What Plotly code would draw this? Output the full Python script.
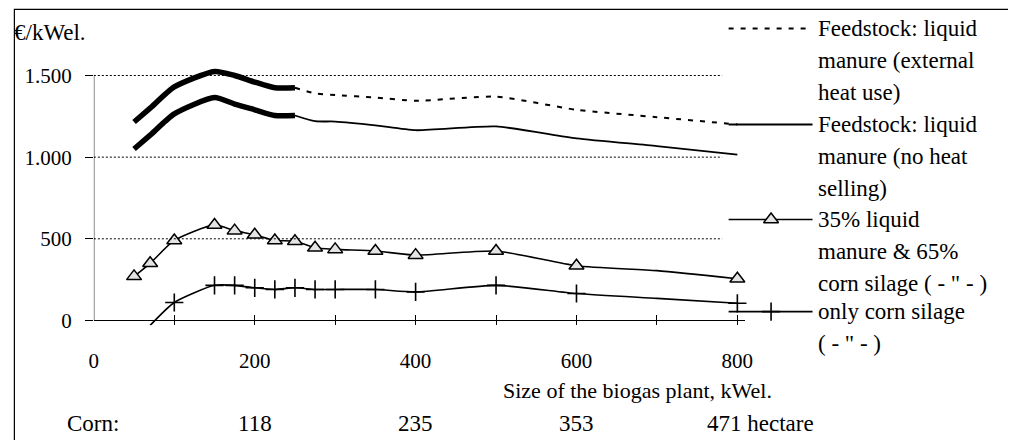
import plotly.graph_objects as go

W, H = 1016, 447
FONT = "Liberation Serif"
TXT = 23       # annotation text size
TICK = 21      # tick label size

# ---------------- data ----------------
sizes = [50, 70, 100, 150, 175, 200, 225, 250, 275, 300, 350, 400, 500, 600, 700, 800]
external_heat = [1215, 1300, 1430, 1525, 1500, 1460, 1425, 1425, 1390, 1380, 1365, 1345, 1370, 1290, 1245, 1200]
no_heat = [1050, 1135, 1265, 1365, 1325, 1290, 1255, 1255, 1220, 1218, 1195, 1165, 1188, 1115, 1068, 1015]
mix_35_65 = [270, 350, 490, 585, 550, 525, 490, 485, 445, 435, 425, 400, 425, 335, 305, 255]
corn_only = [None, -30, 110, 215, 215, 200, 190, 200, 190, 190, 190, 175, 215, 165, 135, 105]
thick_until = 250          # thick line segment up to this size
no_marker_sizes_mix = [700]
no_marker_sizes_corn = [70, 700]

y_ticks = [0, 500, 1000, 1500]
x_ticks = [0, 100, 200, 300, 400, 500, 600, 700, 800]
x_tick_labels = ["0", "", "200", "", "400", "", "600", "", "800"]
corn_sizes = [200, 400, 600, 800]
corn_hectare = ["118", "235", "353", "471 hectare"]

legend_texts = [
    ["Feedstock: liquid", "manure (external", "heat use)"],
    ["Feedstock: liquid", "manure (no heat", "selling)"],
    ["35% liquid", "manure & 65%", "corn silage ( - \" - )"],
    ["only corn silage", "( - \" - )"],
]

# ---------------- layout geometry (pixels) ----------------
PX_L, PX_R = 90, 750        # plot area left/right
PX_T, PX_B = 65, 330        # plot area top/bottom
X_RANGE = [0, 810]
Y_RANGE = [-30, 1560]
GRID_END = 781

fig = go.Figure()

def split(xs, ys, lo=None, hi=None):
    ox, oy = [], []
    for x, y in zip(xs, ys):
        if (lo is None or x >= lo) and (hi is None or x <= hi):
            ox.append(x)
            oy.append(y)
    return ox, oy

line_kw = dict(shape="spline", smoothing=0.6, color="black")

# liquid manure, external heat use
x, y = split(sizes, external_heat, hi=thick_until)
fig.add_trace(go.Scatter(x=x, y=y, mode="lines", line=dict(width=5.5, **line_kw), showlegend=False))
x, y = split(sizes, external_heat, lo=thick_until)
fig.add_trace(go.Scatter(x=x, y=y, mode="lines", line=dict(width=2, dash="5px,7px", **line_kw), showlegend=False))

# liquid manure, no heat selling
x, y = split(sizes, no_heat, hi=thick_until)
fig.add_trace(go.Scatter(x=x, y=y, mode="lines", line=dict(width=5.5, **line_kw), showlegend=False))
x, y = split(sizes, no_heat, lo=thick_until)
fig.add_trace(go.Scatter(x=x, y=y, mode="lines", line=dict(width=1.8, **line_kw), showlegend=False))

# 35% manure & 65% corn silage
fig.add_trace(go.Scatter(x=sizes, y=mix_35_65, mode="lines", line=dict(width=1.6, **line_kw), showlegend=False))
mx = [s for s in sizes if s not in no_marker_sizes_mix]
my = [v for s, v in zip(sizes, mix_35_65) if s not in no_marker_sizes_mix]
fig.add_trace(go.Scatter(x=mx, y=my, mode="markers", showlegend=False, cliponaxis=False,
                         marker=dict(symbol="triangle-up", size=13, color="#e4e4e4",
                                     line=dict(color="black", width=1.5))))

# only corn silage
fig.add_trace(go.Scatter(x=sizes, y=corn_only, mode="lines", line=dict(width=1.6, **line_kw), showlegend=False))
cx = [s for s, v in zip(sizes, corn_only) if v is not None and s not in no_marker_sizes_corn]
cy = [v for s, v in zip(sizes, corn_only) if v is not None and s not in no_marker_sizes_corn]
fig.add_trace(go.Scatter(x=cx, y=cy, mode="markers", showlegend=False, cliponaxis=False,
                         marker=dict(symbol="cross-thin", size=13, color="black",
                                     line=dict(color="black", width=1.6))))

# ---------------- legend samples (pixel overlay axes) ----------------
LEG_X0, LEG_X1, LEG_MID = 733, 818, 776
leg_rows = [27, 125, 222, 316]
fig.add_trace(go.Scatter(x=[LEG_X0, LEG_X1], y=[leg_rows[0]] * 2, xaxis="x2", yaxis="y2", mode="lines",
                         line=dict(color="black", width=2, dash="5px,7px"), showlegend=False))
fig.add_trace(go.Scatter(x=[LEG_X0, LEG_X1], y=[leg_rows[1]] * 2, xaxis="x2", yaxis="y2", mode="lines",
                         line=dict(color="black", width=1.8), showlegend=False))
fig.add_trace(go.Scatter(x=[LEG_X0, LEG_X1], y=[leg_rows[2]] * 2, xaxis="x2", yaxis="y2",
                         mode="lines", line=dict(color="black", width=1.6), showlegend=False))
fig.add_trace(go.Scatter(x=[LEG_MID], y=[leg_rows[2]], xaxis="x2", yaxis="y2", mode="markers",
                         showlegend=False,
                         marker=dict(symbol="triangle-up", size=13, color="#e4e4e4",
                                     line=dict(color="black", width=1.5))))
fig.add_trace(go.Scatter(x=[LEG_X0, LEG_X1], y=[leg_rows[3]] * 2, xaxis="x2", yaxis="y2",
                         mode="lines", line=dict(color="black", width=1.6), showlegend=False))
fig.add_trace(go.Scatter(x=[LEG_MID], y=[leg_rows[3]], xaxis="x2", yaxis="y2", mode="markers",
                         showlegend=False,
                         marker=dict(symbol="cross-thin", size=13, color="black",
                                     line=dict(color="black", width=1.6))))

annotations = []
LINE_H = 32.5
for row_y, lines in zip(leg_rows, legend_texts):
    for i, t in enumerate(lines):
        annotations.append(dict(x=822, y=row_y + i * LINE_H, xref="x2", yref="y2", text=t,
                                showarrow=False, xanchor="left", yanchor="middle",
                                font=dict(family=FONT, size=TXT, color="black")))

annotations.append(dict(x=7, y=31, xref="x2", yref="y2", text="€/kWel.", showarrow=False,
                        xanchor="left", yanchor="middle", font=dict(family=FONT, size=TXT, color="black")))
annotations.append(dict(x=641, y=396, xref="x2", yref="y2", text="Size of the biogas plant, kWel.",
                        showarrow=False, xanchor="center", yanchor="middle",
                        font=dict(family=FONT, size=22, color="black")))
annotations.append(dict(x=61, y=430, xref="x2", yref="y2", text="Corn:", showarrow=False,
                        xanchor="left", yanchor="middle", font=dict(family=FONT, size=TXT, color="black")))
for s, t in zip(corn_sizes, corn_hectare):
    last = t == corn_hectare[-1]
    annotations.append(dict(x=s, y=430, xref="x", yref="y2", text=t, showarrow=False,
                            xanchor="left" if last else "center", xshift=-32 if last else 0,
                            yanchor="middle", font=dict(family=FONT, size=TXT, color="black")))

shapes = []
for v in y_ticks[1:]:
    shapes.append(dict(type="line", xref="x", yref="y", x0=0, x1=GRID_END, y0=v, y1=v,
                       line=dict(color="black", width=1, dash="2px,2px")))
shapes.append(dict(type="line", xref="x", yref="y", x0=0, x1=0, y0=0, y1=y_ticks[-1],
                   line=dict(color="black", width=1)))
# outer frame
shapes.append(dict(type="rect", xref="x2", yref="y2", x0=9.5, x1=W + 20, y0=7.5, y1=H + 20,
                   line=dict(color="black", width=1.2)))

fig.update_layout(
    width=W, height=H,
    autosize=False,
    margin=dict(l=0, r=0, t=0, b=0),
    paper_bgcolor="white", plot_bgcolor="rgba(0,0,0,0)",
    separators=",.",
    font=dict(family=FONT, size=TICK, color="black"),
    showlegend=False,
    xaxis=dict(domain=[PX_L / W, PX_R / W], range=X_RANGE, tickmode="array", tickvals=x_ticks,
               ticktext=x_tick_labels, ticks="inside", ticklen=10, tickwidth=1, tickcolor="black",
               showgrid=False, zeroline=False, showline=False, anchor="y",
               ticklabelstandoff=21, tickfont=dict(family=FONT, size=TICK, color="black")),
    yaxis=dict(domain=[(H - PX_B) / H, (H - PX_T) / H], range=Y_RANGE, tickmode="array",
               tickvals=y_ticks, tickformat=",d", ticks="outside", ticklen=8, tickwidth=1,
               tickcolor="black", showgrid=False, zeroline=True, zerolinecolor="black",
               zerolinewidth=1, showline=False, anchor="x", ticklabelstandoff=9,
               tickfont=dict(family=FONT, size=TICK, color="black")),
    xaxis2=dict(domain=[0, 1], range=[0, W], visible=False, anchor="y2", fixedrange=True),
    yaxis2=dict(domain=[0, 1], range=[H, 0], visible=False, anchor="x2", fixedrange=True),
    annotations=annotations,
    shapes=shapes,
)

post = ("document.body.style.margin='0px';document.body.style.padding='0px';"
        "document.body.style.overflow='hidden';")
fig.write_html("out.html", post_script=post,
               config={"responsive": False, "displayModeBar": False, "staticPlot": True})
